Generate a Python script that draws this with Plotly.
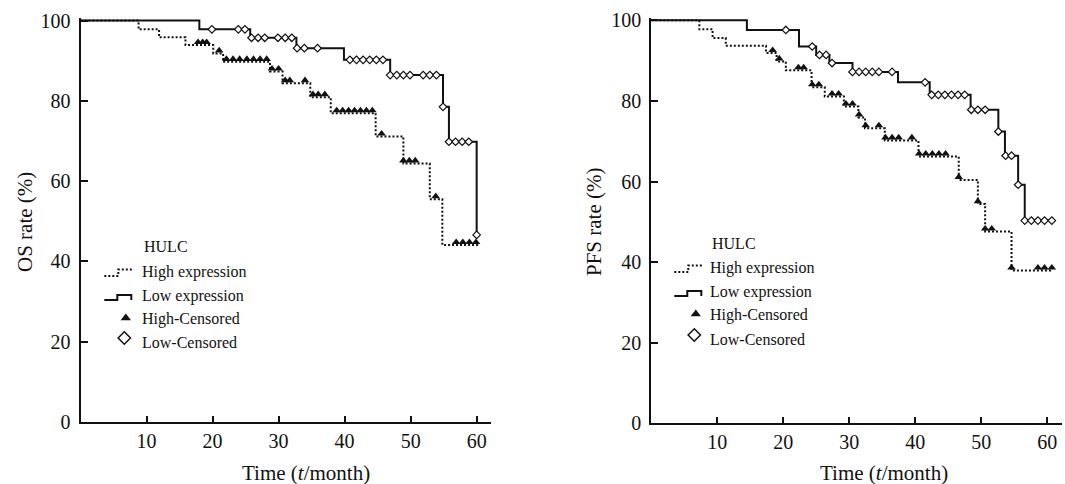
import numpy as np
import plotly.graph_objects as go

# ---------------- data ----------------
# OS (left panel): step times (month) and survival level (%) after each step
os_high_t = [0, 8.8, 11.9, 15.9, 20.1, 21.6, 28.7, 30.6, 34.8, 37.9, 44.7, 48.9, 52.9, 54.8]
os_high_s = [100, 97.8, 95.8, 93.9, 91.8, 89.7, 87.3, 84.4, 80.9, 76.9, 71.1, 64.4, 55.5, 44.1]
os_high_end = 60.5
os_high_cens = [17.8, 18.5, 19.1, 21.0, 22.1, 23.1, 24.1, 25.2, 26.2, 27.2, 28.2, 29.0, 30.0,
                31.0, 31.7, 34.0, 35.2, 36.0, 37.0, 38.8, 39.7, 40.6, 41.5, 42.4, 43.3, 44.2,
                45.6, 48.9, 49.8, 50.7, 53.8, 56.9, 57.9, 58.9, 59.9]

os_low_t = [0, 18.0, 25.7, 32.7, 39.9, 46.9, 54.9, 55.8, 60.0]
os_low_s = [100, 97.8, 95.7, 93.1, 90.2, 86.4, 78.5, 69.8, 46.6]
os_low_end = 60.0
os_low_cens = [19.9, 23.9, 24.9, 25.9, 26.9, 27.9, 29.9, 31.0, 32.0, 32.8, 33.9, 35.9, 40.8,
               41.8, 42.8, 43.8, 44.8, 45.8, 46.9, 47.9, 48.9, 49.9, 51.9, 52.9, 53.9, 54.9,
               55.8, 56.8, 57.8, 58.8, 60.0]

# PFS (right panel)
pfs_high_t = [0, 7.3, 9.3, 11.3, 17.4, 19.0, 20.4, 24.3, 26.3, 29.2, 31.4, 32.4, 35.4, 40.5,
              46.6, 49.5, 50.6, 54.6]
pfs_high_s = [100, 97.8, 95.6, 93.7, 91.9, 89.8, 87.6, 83.4, 81.1, 78.6, 75.9, 73.2, 70.2, 66.2,
              60.4, 54.4, 47.6, 37.9]
pfs_high_end = 60.8
pfs_high_cens = [18.4, 19.4, 22.3, 23.1, 24.4, 25.4, 27.4, 28.4, 29.5, 30.5, 31.5, 32.5, 34.5,
                 35.5, 36.5, 37.5, 39.5, 40.6, 41.6, 42.6, 43.6, 44.6, 46.6, 49.5, 50.6, 51.6,
                 54.6, 58.6, 59.6, 60.7]

pfs_low_t = [0, 14.5, 22.4, 25.0, 27.0, 30.5, 37.4, 42.2, 48.4, 52.6, 53.6, 55.6, 56.6]
pfs_low_s = [100, 97.6, 93.5, 91.4, 89.4, 87.2, 84.6, 81.5, 77.8, 72.4, 66.4, 59.2, 50.3]
pfs_low_end = 60.7
pfs_low_cens = [20.4, 24.4, 25.5, 26.5, 27.4, 30.5, 31.5, 32.5, 33.5, 34.5, 36.5, 41.5, 42.5,
                43.5, 44.5, 45.5, 46.5, 47.5, 48.5, 49.5, 50.6, 52.6, 53.7, 54.6, 55.6, 56.6,
                57.6, 58.6, 59.6, 60.7]

x_ticks = [10, 20, 30, 40, 50, 60]
y_ticks = [0, 20, 40, 60, 80, 100]
legend_title = "HULC"
legend_labels = ["High expression", "Low expression", "High-Censored", "Low-Censored"]
y_titles = ["OS rate (%)", "PFS rate (%)"]
x_title = "Time (<i>t</i>/month)"

# ---------------- helpers ----------------
W, H = 1065, 484
FONT = "Liberation Serif, Times New Roman, serif"
INK = "#111111"
TRI_LIFT = 0.7  # censor triangles sit on top of the line (style offset, in % units)


def level_at(ts, ss, t):
    idx = np.searchsorted(np.asarray(ts), np.asarray(t), side="right") - 1
    return np.asarray(ss)[idx]


def curve(ts, ss, end):
    return list(ts) + [end], list(ss) + [ss[-1]]


def px_dom_x(a, b):
    return [a / W, b / W]


def px_dom_y(top, bottom):
    return [(H - bottom) / H, (H - top) / H]


fig = go.Figure()

panels = [
    dict(xa="x", ya="y", ht=os_high_t, hs=os_high_s, he=os_high_end, hc=os_high_cens,
         lt=os_low_t, ls=os_low_s, le=os_low_end, lc=os_low_cens),
    dict(xa="x2", ya="y2", ht=pfs_high_t, hs=pfs_high_s, he=pfs_high_end, hc=pfs_high_cens,
         lt=pfs_low_t, ls=pfs_low_s, le=pfs_low_end, lc=pfs_low_cens),
]

for p in panels:
    hx, hy = curve(p["ht"], p["hs"], p["he"])
    lx, ly = curve(p["lt"], p["ls"], p["le"])
    fig.add_trace(go.Scatter(x=lx, y=ly, mode="lines", line=dict(color=INK, width=2, shape="hv"),
                             xaxis=p["xa"], yaxis=p["ya"], showlegend=False, hoverinfo="skip"))
    fig.add_trace(go.Scatter(x=hx, y=hy, mode="lines",
                             line=dict(color=INK, width=2, shape="hv", dash="2px,2px"),
                             xaxis=p["xa"], yaxis=p["ya"], showlegend=False, hoverinfo="skip"))
    fig.add_trace(go.Scatter(x=p["hc"], y=level_at(p["ht"], p["hs"], p["hc"]) + TRI_LIFT,
                             mode="markers",
                             marker=dict(symbol="triangle-up", size=7.5, color=INK, line=dict(width=0)),
                             xaxis=p["xa"], yaxis=p["ya"], showlegend=False, hoverinfo="skip",
                             cliponaxis=False))
    fig.add_trace(go.Scatter(x=p["lc"], y=level_at(p["lt"], p["ls"], p["lc"]), mode="markers",
                             marker=dict(symbol="diamond", size=5.8, color="white",
                                         line=dict(color=INK, width=1.2)),
                             xaxis=p["xa"], yaxis=p["ya"], showlegend=False, hoverinfo="skip",
                             cliponaxis=False))

# ---------------- legends (drawn on a full-page pixel overlay) ----------------
leg = [
    dict(glyph=104.3, text=139.5, title_x=141.5, ys=[246.5, 272, 296, 319, 342]),
    dict(glyph=674.3, text=708.3, title_x=710, ys=[243, 268, 292, 315, 339]),
]
annotations = []
for L in leg:
    g0 = L["glyph"]
    yt, y1, y2, y3, y4 = L["ys"]
    # high expression glyph: dotted small step
    fig.add_trace(go.Scatter(x=[g0, g0 + 14, g0 + 14, g0 + 27.5], y=[y1 + 4, y1 + 4, y1 - 2.5, y1 - 2.5],
                             mode="lines", line=dict(color=INK, width=2, dash="2px,2px"),
                             xaxis="x3", yaxis="y3", showlegend=False, hoverinfo="skip"))
    # low expression glyph: solid step
    fig.add_trace(go.Scatter(x=[g0, g0 + 13, g0 + 13, g0 + 27, g0 + 27],
                             y=[y2 + 4, y2 + 4, y2 - 1, y2 - 1, y2 + 4],
                             mode="lines", line=dict(color=INK, width=2),
                             xaxis="x3", yaxis="y3", showlegend=False, hoverinfo="skip"))
    fig.add_trace(go.Scatter(x=[g0 + 21.5], y=[y3 - 1], mode="markers",
                             marker=dict(symbol="triangle-up", size=9, color=INK),
                             xaxis="x3", yaxis="y3", showlegend=False, hoverinfo="skip"))
    fig.add_trace(go.Scatter(x=[g0 + 20], y=[y4 - 4], mode="markers",
                             marker=dict(symbol="diamond", size=9.5, color="white",
                                         line=dict(color=INK, width=1.5)),
                             xaxis="x3", yaxis="y3", showlegend=False, hoverinfo="skip"))
    annotations.append(dict(x=L["title_x"], y=yt, xref="x3", yref="y3", text=legend_title,
                            showarrow=False, xanchor="left", yanchor="middle",
                            font=dict(family=FONT, size=16, color=INK)))
    for lab, yy in zip(legend_labels, [y1, y2, y3, y4]):
        annotations.append(dict(x=L["text"], y=yy, xref="x3", yref="y3", text=lab,
                                showarrow=False, xanchor="left", yanchor="middle",
                                font=dict(family=FONT, size=16, color=INK)))

# axis titles
for cx in [306, 884]:
    annotations.append(dict(x=cx, y=473, xref="x3", yref="y3", text=x_title, showarrow=False,
                            xanchor="center", yanchor="middle",
                            font=dict(family=FONT, size=21, color=INK)))
for cx, t in zip([25, 594], y_titles):
    annotations.append(dict(x=cx, y=222, xref="x3", yref="y3", text=t, showarrow=False,
                            textangle=-90, xanchor="center", yanchor="middle",
                            font=dict(family=FONT, size=21, color=INK)))

xcommon = dict(range=[0, 62.2], tickvals=x_ticks, ticks="inside", ticklen=6, tickwidth=1.5,
               tickcolor=INK, showline=True, linecolor=INK, linewidth=2, showgrid=False,
               zeroline=False, tickfont=dict(family=FONT, size=20, color=INK), fixedrange=True,
               automargin=False)
ycommon = dict(range=[0, 100.5], tickvals=y_ticks, ticks="inside", ticklen=7, tickwidth=1.5,
               tickcolor=INK, showline=True, linecolor=INK, linewidth=2, showgrid=False,
               zeroline=False, tickfont=dict(family=FONT, size=20, color=INK), fixedrange=True,
               ticklabelstandoff=4, automargin=False)

fig.update_layout(
    template="none",
    width=W, height=H, margin=dict(l=0, r=0, t=0, b=0, pad=0, autoexpand=False),
    paper_bgcolor="white", plot_bgcolor="rgba(0,0,0,0)",
    xaxis=dict(domain=px_dom_x(80.5, 491.2), anchor="y", **xcommon),
    yaxis=dict(domain=px_dom_y(422 - 100.5 * 4.015, 422), anchor="x", **ycommon),
    xaxis2=dict(domain=px_dom_x(651.2, 1061.7), anchor="y2", **xcommon),
    yaxis2=dict(domain=px_dom_y(423.3 - 100.5 * 4.03, 423.3), anchor="x2", **ycommon),
    xaxis3=dict(domain=[0, 1], range=[0, W], visible=False, fixedrange=True, anchor="y3",
                automargin=False),
    yaxis3=dict(domain=[0, 1], range=[H, 0], visible=False, fixedrange=True, anchor="x3",
                automargin=False),
    annotations=annotations,
    showlegend=False,
)

fig.write_html("out.html", config={"displayModeBar": False},
               post_script="document.body.style.margin='0';")
